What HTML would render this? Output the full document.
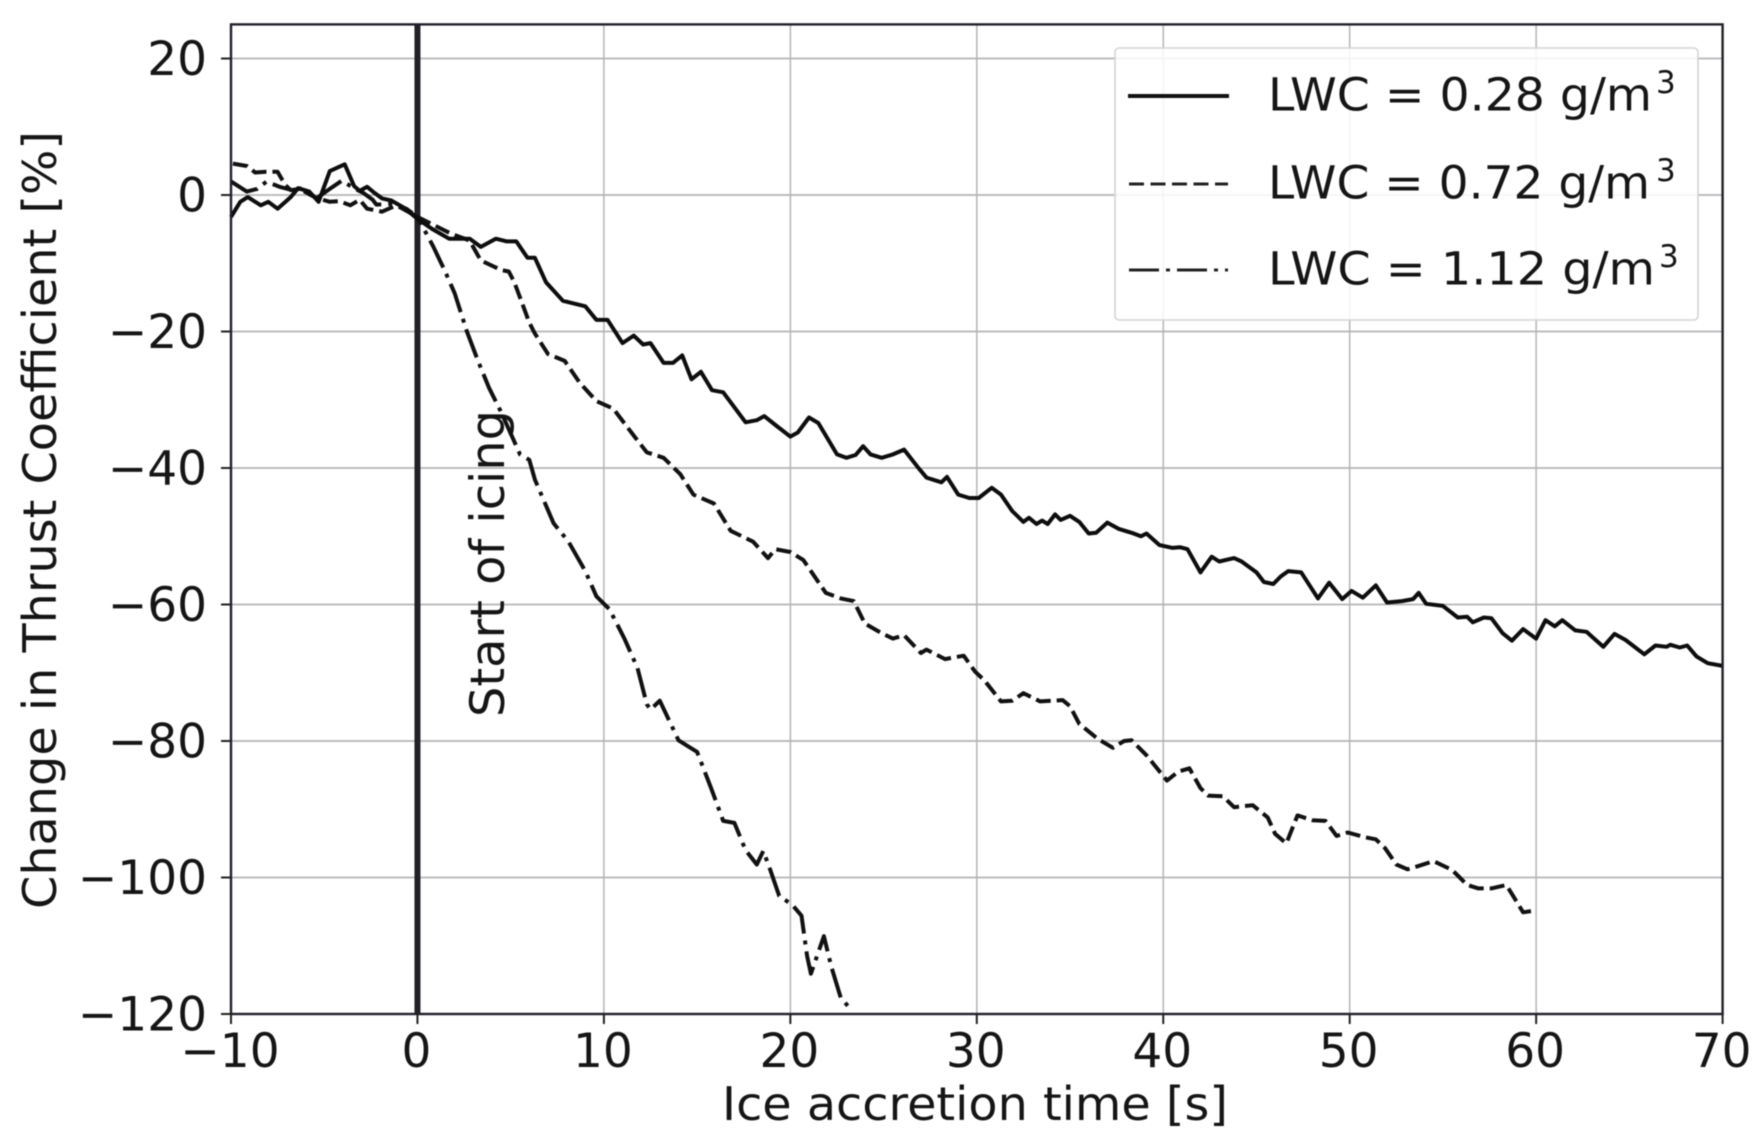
<!DOCTYPE html>
<html lang="en">
<head>
<meta charset="utf-8">
<title>Change in Thrust Coefficient vs Ice Accretion Time</title>
<style>
html,body{margin:0;padding:0;background:#fff;}
svg{display:block;filter:blur(0.4px);}
text{font-family:"DejaVu Sans","Liberation Sans",sans-serif;fill:#151515;}
</style>
</head>
<body>
<svg id="chart" xmlns="http://www.w3.org/2000/svg" width="1762" height="1146" viewBox="0 0 1762 1146">
  <rect x="0" y="0" width="1762" height="1146" fill="#ffffff"/>
  <g id="grid"></g>
  <line id="start-line" stroke="#222226" stroke-width="6"/>
  <text x="504" y="717" font-size="47" textLength="307" lengthAdjust="spacingAndGlyphs" transform="rotate(-90 504 717)">Start of icing</text>
  <g id="series"></g>
  <g id="axes"></g>
  <g id="ticks"></g>
  <text x="56" y="909" font-size="46" textLength="778" lengthAdjust="spacingAndGlyphs" transform="rotate(-90 56 909)">Change in Thrust Coefficient [%]</text>
  <text x="722" y="1120" font-size="46" textLength="506" lengthAdjust="spacingAndGlyphs">Ice accretion time [s]</text>
  <g>
    <rect x="1115" y="48" width="583" height="272" rx="4" ry="4" fill="#ffffff" fill-opacity="0.85" stroke="#d4d4d8" stroke-width="1.6"/>
    <line x1="1128" y1="96" x2="1229" y2="96" stroke="#111" stroke-width="4"/>
    <line x1="1129" y1="184" x2="1228" y2="184" stroke="#222" stroke-width="3" stroke-dasharray="15 6.5"/>
    <line x1="1129" y1="270" x2="1228" y2="270" stroke="#222" stroke-width="3" stroke-dasharray="30 7 4 7"/>
    <text x="1268" y="110.7" font-size="45" textLength="384" lengthAdjust="spacingAndGlyphs">LWC = 0.28 g/m</text>
    <text x="1656" y="93" font-size="31">3</text>
    <text x="1268" y="198.5" font-size="45" textLength="382" lengthAdjust="spacingAndGlyphs">LWC = 0.72 g/m</text>
    <text x="1656" y="181" font-size="31">3</text>
    <text x="1268" y="284.4" font-size="45" textLength="387" lengthAdjust="spacingAndGlyphs">LWC = 1.12 g/m</text>
    <text x="1659" y="267" font-size="31">3</text>
  </g>
</svg>
<script>
const xTicks = [-10, 0, 10, 20, 30, 40, 50, 60, 70];
const yTicks = [20, 0, -20, -40, -60, -80, -100, -120];
const xDomain = [-10, 70];
const yDomain = [-120, 25];
const startOfIcing = 0;

const solidTime = [-10,-9.5,-9.1,-8.4,-8,-7.5,-6.8,-6.4,-5.8,-5.3,-4.7,-3.9,-3.4,-3.1,-2.7,-2.3,-1.9,-1.4,-0.7,0,0.8,1.7,2.8,3.4,4.2,4.8,5.3,5.9,6.3,6.9,7.8,9,9.6,10.2,11,11.6,12.1,12.5,13.2,13.7,14.2,14.7,15.2,15.8,16.4,17.6,18.2,18.6,19.2,20,20.4,21,21.5,22.5,23,23.5,23.9,24.3,24.9,25.5,26.1,26.9,27.3,28.1,28.4,29,29.6,30.1,30.8,31.3,31.9,32.5,32.8,33.2,33.5,33.8,34.2,34.5,35,35.5,36,36.4,37,37.6,38.3,38.8,39.1,39.8,40.5,40.9,41.3,42,42.6,43,43.8,44.2,45,45.4,45.9,46.3,46.7,47.4,48.3,48.9,49.6,50.1,50.7,51.4,52,52.8,53.4,53.7,54.1,55,55.8,56.3,56.6,57.2,57.6,58.2,58.7,59.3,60,60.5,61,61.4,62.1,62.7,63.6,64.2,64.8,65.8,66.4,67,67.2,67.7,68.1,68.6,69.2,70];
const solidValues = [-3.2,-1,-0.3,-1.5,-1,-2,-0.3,1,0.5,-1,3.5,4.5,1.3,0.6,1.2,0.3,-0.5,-0.8,-1.9,-3.5,-5,-6.4,-6.4,-7.6,-6.4,-6.8,-6.8,-9.2,-9.2,-12.8,-15.5,-16.3,-18.3,-18.3,-21.7,-20.6,-21.9,-21.7,-24.6,-24.6,-23.5,-27,-25.9,-28.6,-28.9,-33.3,-33,-32.4,-33.7,-35.4,-34.8,-32.6,-33.4,-38,-38.5,-38.1,-36.8,-38,-38.5,-38,-37.3,-40.1,-41.4,-42.1,-41.3,-43.9,-44.4,-44.4,-42.9,-43.9,-46.3,-47.9,-47.3,-48.2,-47.7,-48.2,-46.8,-47.6,-47,-47.9,-49.6,-49.5,-48,-48.9,-49.5,-50,-49.6,-51.3,-51.7,-51.6,-51.9,-55.3,-53,-53.7,-53.2,-53.7,-55.3,-56.7,-57,-55.9,-55.1,-55.3,-59.1,-56.8,-59.2,-58,-59,-57.2,-59.7,-59.5,-59.2,-58.3,-59.9,-60.2,-61.9,-61.8,-62.6,-61.9,-62,-64.2,-65.3,-63.6,-65,-62.3,-63.2,-62.3,-63.8,-64,-66.2,-64.3,-65.2,-67.3,-66,-66.2,-65.9,-66.3,-66,-67.6,-68.6,-69];

const dashedTime = [-9.9,-9.15,-8.7,-8.1,-7.5,-7.1,-6.8,-6.3,-5.8,-5.4,-4.7,-4.2,-3.6,-3.1,-2.7,-1.9,-1.2,-0.6,0,1.75,2.8,3.4,4.5,4.9,5.2,6,6.3,7,7.9,8.7,9.6,10.5,11.7,12.3,13.2,14.1,14.8,15.9,16.8,18,18.8,19.2,20,20.7,21.9,22.7,23.4,24,24.9,25.5,26.1,27,27.3,28.3,29.3,29.9,30.4,31.3,31.9,32.5,33.4,34.6,35,35.5,36.5,37.3,37.9,38.3,39.1,40.2,40.8,41.4,42,42.4,43.2,43.8,44.8,45.6,46,46.6,47.2,48,48.7,49.3,49.9,50.8,51.4,51.9,52.5,53.1,53.7,54.5,55.5,56.3,56.9,57.6,58.4,58.7,59.3,60];
const dashedValues = [4.6,4.25,3.3,3.4,3.4,1.5,0.7,0.9,0.1,-0.45,-1,-0.9,-1.5,-0.7,-2,-2.45,-1.6,-2,-3.2,-5.6,-6.7,-9.6,-11,-11.2,-12.8,-18.7,-20.3,-23.3,-24.3,-27.5,-30.2,-31.3,-35.6,-37.7,-38.5,-40.9,-43.9,-45.2,-49.2,-50.8,-53.2,-51.9,-52.3,-53.5,-58.3,-59.1,-59.5,-62.8,-64.2,-65,-64.5,-67.1,-66.6,-68,-67.5,-69.8,-71.1,-74.2,-74.1,-73,-74.2,-74,-74.9,-77.5,-79.7,-81,-80,-79.9,-82.1,-85.8,-84.5,-84,-86.9,-88,-88.1,-89.7,-89.4,-91.2,-93.6,-95,-90.9,-91.6,-91.7,-93.9,-93.4,-94.1,-94.4,-95.7,-98.1,-98.8,-98.3,-97.6,-98.9,-101.1,-101.6,-101.6,-101.1,-102.4,-105.1,-104.8];

const dashDotTime = [-10,-9.15,-8.6,-8.1,-7.4,-6.7,-6.2,-5.4,-4.7,-4.06,-3.4,-2.9,-2.4,-2.2,-1.5,-1,0,0.84,1.45,2,2.65,3.25,3.85,4.45,5.06,5.5,6,6.3,7.3,8.1,9,9.6,10.3,11.1,11.8,12.3,12.5,13,14,15,15.75,16.4,17,17.6,18.2,18.55,18.9,19.4,20.1,20.6,20.9,21.1,21.8,22.2,22.7,23.2];
const dashDotValues = [2,0.5,0.9,1.95,1.2,0.7,1,-0.45,0.9,2.1,1,0.3,-0.7,-1.4,-1.3,-1.7,-3.2,-7.5,-11,-14.4,-20,-24.3,-28.3,-31.6,-35.3,-38,-38.8,-41.7,-48.1,-50.8,-55.1,-58.8,-60.7,-65,-69.3,-74.6,-75.4,-74.1,-79.9,-81.6,-86.9,-91.7,-92,-96,-98.1,-96.1,-98.7,-102.7,-104,-105.6,-111.5,-114.1,-108.6,-113.1,-117.6,-119.2];

const plotLeft = 231, plotRight = 1722.6, plotTop = 24.4, plotBottom = 1014;
const NS = 'http://www.w3.org/2000/svg';

function xScale(v) {
  return plotLeft + (v - xDomain[0]) / (xDomain[1] - xDomain[0]) * (plotRight - plotLeft);
}
function yScale(v) {
  return plotBottom - (v - yDomain[0]) / (yDomain[1] - yDomain[0]) * (plotBottom - plotTop);
}
function make(tag, attrs, parent) {
  const el = document.createElementNS(NS, tag);
  for (const k in attrs) el.setAttribute(k, attrs[k]);
  parent.appendChild(el);
  return el;
}

const gridG = document.getElementById('grid');
const ticksG = document.getElementById('ticks');
const axesG = document.getElementById('axes');
const seriesG = document.getElementById('series');

xTicks.forEach(function (t) {
  const x = xScale(t);
  const g = make('line', {x1: x, x2: x, y1: plotTop, y2: plotBottom, stroke: '#b8b8be', 'stroke-width': 1.6}, gridG);
  
  
  const m = make('line', {x1: x, x2: x, y1: plotBottom, y2: plotBottom + 10, stroke: '#222', 'stroke-width': 2}, ticksG);
  
  
  const l = make('text', {x: x - 1, y: 1067, 'font-size': 47, 'text-anchor': 'middle'}, ticksG);
  
  
  l.textContent = String(t).replace('-', '\u2212');
});

yTicks.forEach(function (t) {
  const y = yScale(t);
  const g = make('line', {x1: plotLeft, x2: plotRight, y1: y, y2: y, stroke: '#b4b4b4', 'stroke-width': 1.8}, gridG);
  
  
  const m = make('line', {x1: plotLeft - 10, x2: plotLeft, y1: y, y2: y, stroke: '#222', 'stroke-width': 2}, ticksG);
  
  
  const l = make('text', {x: 207, y: y + 16.5, 'font-size': 47, 'text-anchor': 'end'}, ticksG);
  
  
  l.textContent = String(t).replace('-', '\u2212');
});

const startLine = document.getElementById('start-line');
startLine.setAttribute('x1', xScale(startOfIcing));
startLine.setAttribute('x2', xScale(startOfIcing));
startLine.setAttribute('y1', plotTop);
startLine.setAttribute('y2', plotBottom);

function pathFor(times, values) {
  return times.map(function (t, i) {
    return (i ? 'L' : 'M') + xScale(t).toFixed(1) + ' ' + yScale(values[i]).toFixed(1);
  }).join(' ');
}

const dashedPath = make('path', {d: pathFor(dashedTime, dashedValues), fill: 'none', stroke: '#111111', 'stroke-width': 4, 'stroke-linejoin': 'round', 'stroke-dasharray': '15 6'}, seriesG);



const dashDotPath = make('path', {d: pathFor(dashDotTime, dashDotValues), fill: 'none', stroke: '#111111', 'stroke-width': 4, 'stroke-linejoin': 'round', 'stroke-dasharray': '30 7 4 7'}, seriesG);



const solidPath = make('path', {d: pathFor(solidTime, solidValues), fill: 'none', stroke: '#0d0d0d', 'stroke-width': 4, 'stroke-linejoin': 'round'}, seriesG);



const frame = make('rect', {x: plotLeft, y: plotTop, width: plotRight - plotLeft, height: plotBottom - plotTop, fill: 'none', stroke: '#20202a', 'stroke-width': 2.4}, axesG);


</script>
</body>
</html>
